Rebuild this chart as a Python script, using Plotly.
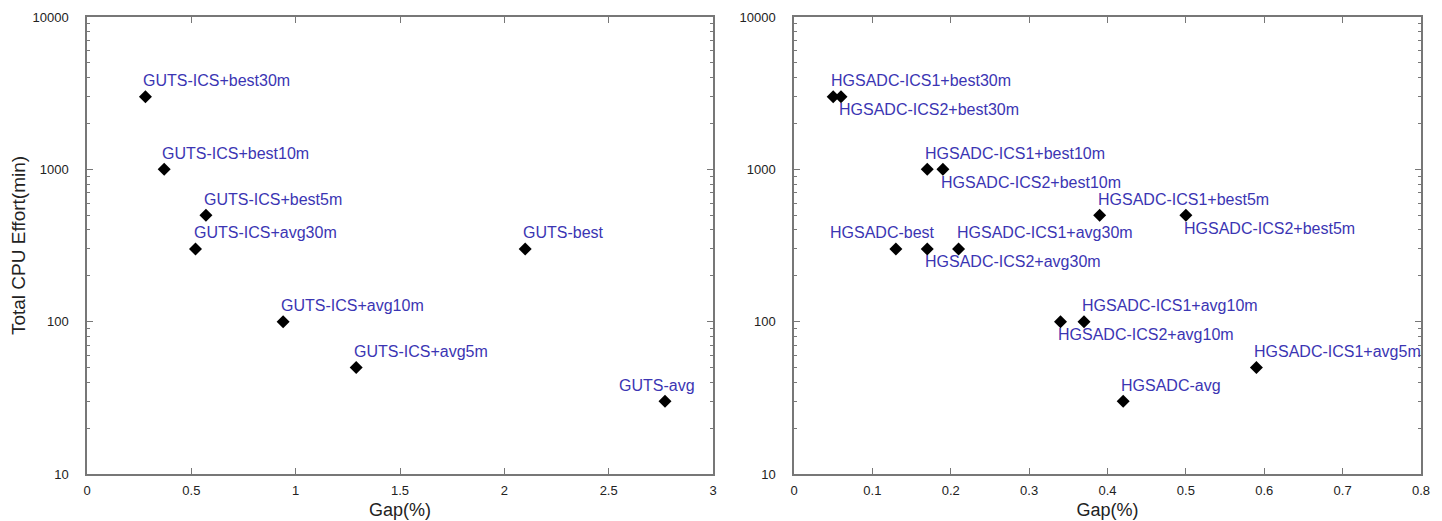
import math
import plotly.graph_objects as go

# ---------------- data ----------------
guts_labels = ["GUTS-ICS+best30m", "GUTS-ICS+best10m", "GUTS-ICS+best5m", "GUTS-ICS+avg30m",
               "GUTS-best", "GUTS-ICS+avg10m", "GUTS-ICS+avg5m", "GUTS-avg"]
guts_gap = [0.28, 0.37, 0.57, 0.52, 2.10, 0.94, 1.29, 2.77]
guts_cpu = [3000, 1000, 500, 300, 300, 100, 50, 30]

hg_labels = ["HGSADC-ICS1+best30m", "HGSADC-ICS2+best30m", "HGSADC-ICS1+best10m", "HGSADC-ICS2+best10m",
             "HGSADC-ICS1+best5m", "HGSADC-ICS2+best5m", "HGSADC-best", "HGSADC-ICS2+avg30m",
             "HGSADC-ICS1+avg30m", "HGSADC-ICS2+avg10m", "HGSADC-ICS1+avg10m", "HGSADC-ICS1+avg5m",
             "HGSADC-avg"]
hg_gap = [0.05, 0.06, 0.17, 0.19, 0.39, 0.50, 0.13, 0.17, 0.21, 0.34, 0.37, 0.59, 0.42]
hg_cpu = [3000, 3000, 1000, 1000, 500, 500, 300, 300, 300, 100, 100, 50, 30]

# label placement (style only)
guts_place = ["above", "above", "above", "above", "above", "above", "above", "center"]
hg_place = ["above", "below", "above", "below", "above", "below", "center", "below",
            "above", "below", "above", "above", "above"]

LABEL_COLOR = "#3b35b3"
FONT = "Liberation Sans, Arial, Helvetica, sans-serif"

fig = go.Figure()
fig.add_trace(go.Scatter(x=guts_gap, y=guts_cpu, mode="markers", xaxis="x", yaxis="y",
                         marker=dict(symbol="diamond", size=10, color="black"), showlegend=False))
fig.add_trace(go.Scatter(x=hg_gap, y=hg_cpu, mode="markers", xaxis="x2", yaxis="y2",
                         marker=dict(symbol="diamond", size=10, color="black"), showlegend=False))

annotations = []
def add_labels(labels, xs, ys, places, xref, yref, center_shift):
    for t, xv, yv, p in zip(labels, xs, ys, places):
        a = dict(text=t, x=xv, y=math.log10(yv), xref=xref, yref=yref, showarrow=False,
                 font=dict(family=FONT, size=16, color=LABEL_COLOR), yanchor="middle")
        if p == "above":
            a.update(xanchor="left", xshift=-4, yshift=16)
        elif p == "below":
            a.update(xanchor="left", xshift=-4, yshift=-13)
        else:
            a.update(xanchor="center", xshift=center_shift, yshift=16)
        annotations.append(a)

add_labels(guts_labels, guts_gap, guts_cpu, guts_place, "x", "y", -8)
add_labels(hg_labels, hg_gap, hg_cpu, hg_place, "x2", "y2", -13)

AX_COL = "#777777"
TICK_FONT = dict(family=FONT, size=13, color="#222222")
common_x = dict(showline=True, linecolor=AX_COL, linewidth=1.5, mirror="ticks", ticks="inside",
                ticklen=6, tickcolor=AX_COL, showgrid=False, zeroline=False, tickfont=TICK_FONT,
                ticklabelstandoff=4, automargin=False,
                title=dict(text="Gap(%)", font=dict(family=FONT, size=18, color="#222222"), standoff=6))
common_y = dict(type="log", range=[1, 4], showline=True, linecolor=AX_COL, linewidth=1.5,
                mirror="ticks", ticks="inside", ticklen=6, tickcolor=AX_COL, showgrid=False,
                zeroline=False, tickvals=[10, 100, 1000, 10000], ticktext=["10", "100", "1000", "10000"],
                tickfont=TICK_FONT, ticklabelstandoff=14, automargin=False,
                minor=dict(ticks="inside", ticklen=3, tickcolor=AX_COL, dtick="D1", showgrid=False))

W = 1434
H = 513
fig.update_layout(
    width=W, height=H,
    margin=dict(l=0, r=0, t=9, b=47),
    paper_bgcolor="white", plot_bgcolor="white",
    xaxis=dict(domain=[79/W, 705/W], range=[0, 3], dtick=0.5, anchor="y", **common_x),
    yaxis=dict(domain=[0, 1], anchor="x",
               title=dict(text="Total CPU Effort(min)", font=dict(family=FONT, size=19, color="#222222"),
                          standoff=2), **common_y),
    xaxis2=dict(domain=[786/W, 1413/W], range=[0, 0.8], dtick=0.1, anchor="y2", **common_x),
    yaxis2=dict(domain=[0, 1], anchor="x2", **common_y),
    annotations=annotations,
)

fig.write_html("out.html")
